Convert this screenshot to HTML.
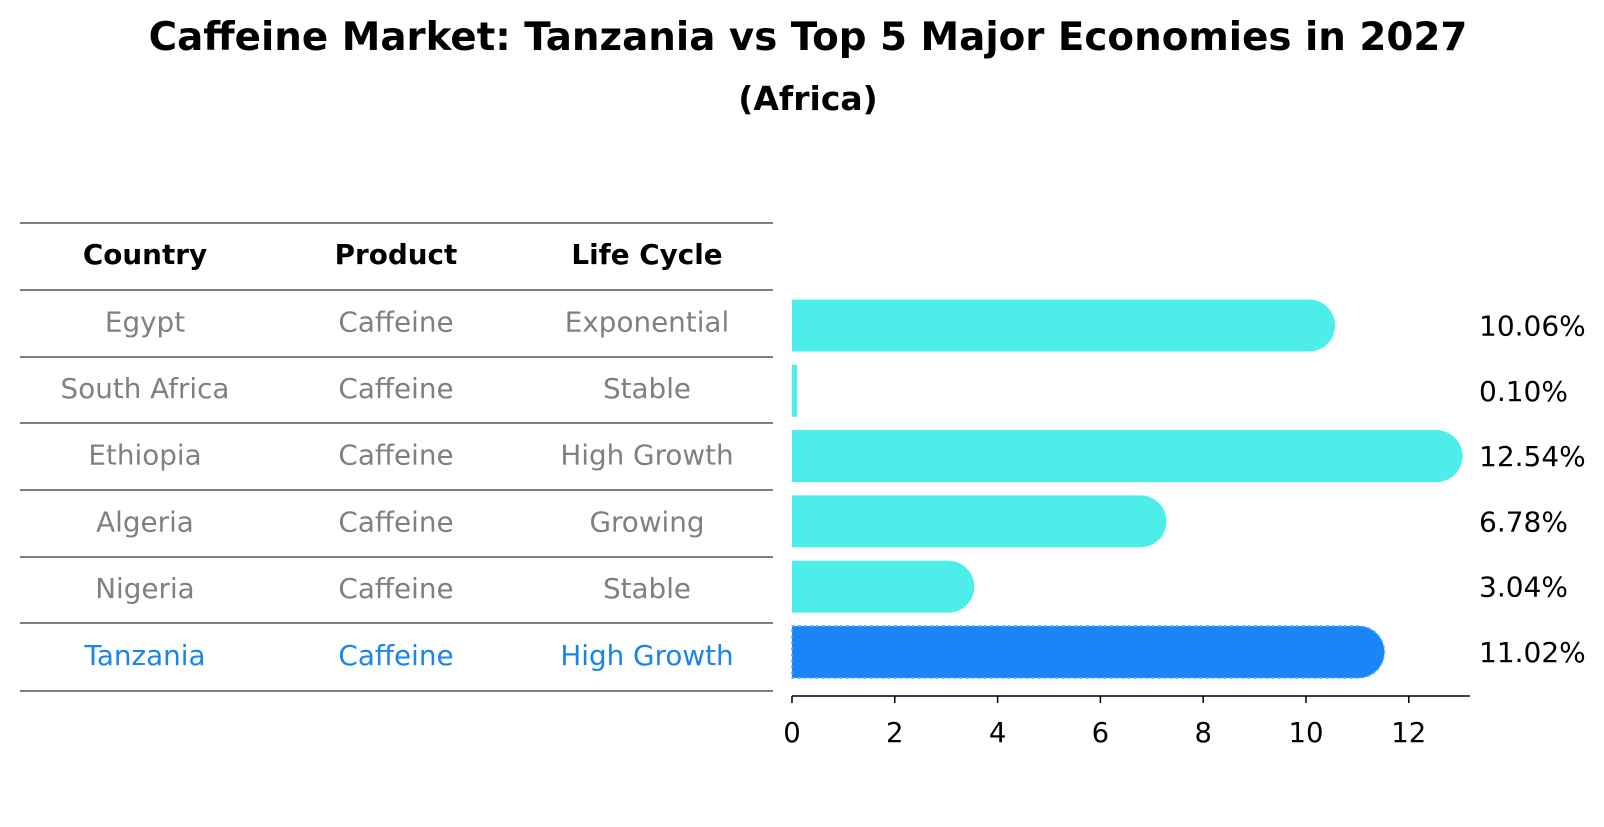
<!DOCTYPE html>
<html><head><meta charset="utf-8"><style>
body{margin:0;background:#fff;font-family:"DejaVu Sans","Liberation Sans",sans-serif;}
</style></head><body>
<svg width="1604" height="823" viewBox="0 0 1604 823" xmlns="http://www.w3.org/2000/svg" font-family="DejaVu Sans, Liberation Sans, sans-serif">
<text x="808" y="50" text-anchor="middle" font-size="38.8" font-weight="bold">Caffeine Market: Tanzania vs Top 5 Major Economies in 2027</text>
<text x="808" y="110" text-anchor="middle" font-size="33" font-weight="bold">(Africa)</text>
<g id="table"></g>
<g id="bars"></g>
<g id="axis"></g>
</svg>
<script>
const countries=["Egypt","South Africa","Ethiopia","Algeria","Nigeria","Tanzania"];
const products=["Caffeine","Caffeine","Caffeine","Caffeine","Caffeine","Caffeine"];
const lifeCycles=["Exponential","Stable","High Growth","Growing","Stable","High Growth"];
const values=[10.06,0.10,12.54,6.78,3.04,11.02];
const tickValues=[0,2,4,6,8,10,12];
const NS="http://www.w3.org/2000/svg";
function mk(tag,attrs,parent){const e=document.createElementNS(NS,tag);for(const k in attrs)e.setAttribute(k,attrs[k]);parent.appendChild(e);return e;}
const x0=792,pxPer=51.4;
const xs=v=>x0+v*pxPer;
const rowY=i=>325.5+i*65.3;
const table=document.getElementById('table'),bars=document.getElementById('bars'),axis=document.getElementById('axis');
const lineYs=[223,290,357,423,490,557,623,691];
lineYs.forEach((y,i)=>{const l=mk('line',{x1:20,x2:773,y1:y,y2:y,stroke:'#000','stroke-width':1},table);

});
const colX=[145,396,647];
["Country","Product","Life Cycle"].forEach((h,j)=>{const t=mk('text',{x:colX[j],y:264,'text-anchor':'middle','font-size':27.8,'font-weight':'bold'},table);t.textContent=h;

});
countries.forEach((c,i)=>{
 const y=(lineYs[i+1]+lineYs[i+2])/2+8;
 const col=i===countries.length-1?'#1a85e8':'#808080';
 [c,products[i],lifeCycles[i]].forEach((v,j)=>{const t=mk('text',{x:colX[j],y:y,'text-anchor':'middle','font-size':27.8,fill:col},table);t.textContent=v;
 
 });
 const cy=rowY(i),h=52,last=i===countries.length-1,color=last?'#1a85f7':'#4deee9';
 const xe=xs(values[i]);
 const g=mk('g',{},bars);
 
 
 mk('rect',{x:x0,y:cy-h/2,width:Math.max(xe-x0,1),height:h,fill:color},g);
 if(values[i]>1) mk('circle',{cx:xe,cy:cy,r:h/2,fill:color},g);
 if(last){mk('path',{d:`M${x0},${cy-h/2} H${xe} A${h/2},${h/2} 0 0 1 ${xe},${cy+h/2} H${x0} Z`,fill:'none',stroke:'#5aaaf5','stroke-width':1.5,'stroke-dasharray':'3,3'},g);}
 const t=mk('text',{x:1479,y:cy+10,'font-size':28},bars);t.textContent=values[i].toFixed(2)+'%';
 
 
});
const al=mk('line',{x1:x0,x2:1470,y1:696,y2:696,stroke:'#000','stroke-width':1.5},axis);


tickValues.forEach(v=>{const x=xs(v);mk('line',{x1:x,x2:x,y1:696,y2:703,stroke:'#000','stroke-width':1.5},axis);
 const t=mk('text',{x:x,y:742,'text-anchor':'middle','font-size':27.5},axis);t.textContent=v;
 
 });
</script>
</body></html>
